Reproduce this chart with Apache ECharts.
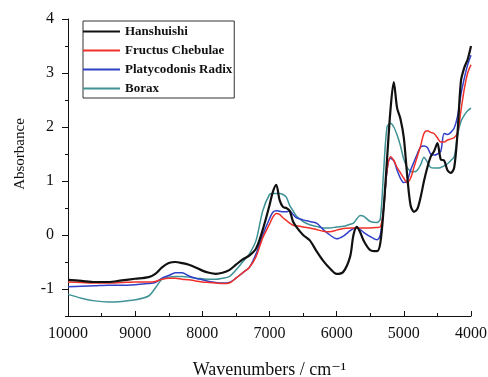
<!DOCTYPE html>
<html>
<head>
<meta charset="utf-8">
<script src="https://cdn.jsdelivr.net/npm/echarts@6/dist/echarts.min.js"></script>
<style>
  html, body { margin: 0; padding: 0; background: #fff; }
  #chart { width: 488px; height: 377px; }
</style>
</head>
<body>
<div id="chart"></div>
<script>
// wavenumbers (cm-1), shared by all spectra
var wavenumbers = [10000, 9800, 9600, 9400, 9200, 9000, 8800, 8700, 8600, 8500, 8400, 8300, 8200, 8100, 8000,
  7900, 7800, 7700, 7600, 7500, 7400, 7300, 7200, 7100, 7000, 6950, 6900, 6850, 6800, 6750, 6700, 6650, 6600,
  6500, 6400, 6300, 6200, 6100, 6000, 5900, 5800, 5750, 5700, 5650, 5600, 5500, 5400, 5350, 5300, 5250, 5200,
  5150, 5100, 5050, 5000, 4950, 4900, 4850, 4800, 4750, 4700, 4650, 4600, 4550, 4500, 4450, 4400, 4350, 4300,
  4250, 4200, 4150, 4100, 4050, 4000];

var hanshuishi = [-0.83, -0.85, -0.87, -0.87, -0.84, -0.81, -0.78, -0.72, -0.6, -0.52, -0.5, -0.52, -0.55, -0.6, -0.66,
  -0.7, -0.72, -0.7, -0.65, -0.55, -0.45, -0.38, -0.25, 0.1, 0.55, 0.8, 0.93, 0.65, 0.52, 0.5, 0.45, 0.25, 0.15,
  0.0, -0.1, -0.3, -0.48, -0.62, -0.72, -0.68, -0.4, 0.0, 0.15, 0.05, -0.1, -0.28, -0.3, -0.15, 0.5, 1.4, 2.3,
  2.83, 2.35, 2.15, 1.8, 1.1, 0.55, 0.43, 0.48, 0.7, 1.0, 1.25, 1.45, 1.55, 1.7, 1.4, 1.38, 1.2, 1.15,
  1.25, 1.9, 2.85, 3.1, 3.25, 3.5];

var fructusChebulae = [-0.87, -0.88, -0.89, -0.89, -0.88, -0.87, -0.87, -0.86, -0.82, -0.8, -0.8, -0.82, -0.83, -0.85, -0.87,
  -0.88, -0.89, -0.9, -0.89, -0.8, -0.7, -0.6, -0.4, -0.05, 0.2, 0.33, 0.4, 0.38, 0.32, 0.27, 0.22, 0.18, 0.17,
  0.15, 0.13, 0.1, 0.07, 0.06, 0.09, 0.12, 0.13, 0.13, 0.13, 0.13, 0.13, 0.13, 0.14, 0.15, 0.5, 1.2, 1.45,
  1.38, 1.25, 1.15, 1.05, 0.97, 1.05, 1.25, 1.45, 1.65, 1.88, 1.93, 1.9, 1.88, 1.8, 1.72, 1.72, 1.76, 1.78,
  1.8, 1.9, 2.3, 2.7, 3.0, 3.15];

var platycodonisRadix = [-0.96, -0.95, -0.94, -0.93, -0.93, -0.92, -0.9, -0.88, -0.8, -0.75, -0.7, -0.7, -0.76, -0.8, -0.83,
  -0.86, -0.88, -0.89, -0.88, -0.8, -0.7, -0.6, -0.35, 0.0, 0.3, 0.42, 0.45, 0.44, 0.43, 0.43, 0.45, 0.38, 0.32,
  0.28, 0.25, 0.22, 0.1, 0.0, -0.07, -0.02, 0.08, 0.12, 0.13, 0.1, 0.05, -0.03, -0.09, 0.0, 0.5, 1.2, 1.42,
  1.38, 1.2, 1.05, 0.97, 1.0, 1.2, 1.35, 1.5, 1.63, 1.65, 1.62, 1.5, 1.48, 1.5, 1.55, 1.88, 1.86, 1.9,
  1.98, 2.2, 2.6, 2.9, 3.15, 3.33];

var borax = [-1.1, -1.17, -1.22, -1.24, -1.23, -1.2, -1.13, -0.98, -0.82, -0.78, -0.77, -0.77, -0.78, -0.8, -0.81,
  -0.82, -0.82, -0.8, -0.77, -0.65, -0.5, -0.35, -0.1, 0.45, 0.75, 0.77, 0.77, 0.77, 0.75, 0.7, 0.55, 0.45, 0.35,
  0.25, 0.19, 0.16, 0.13, 0.13, 0.15, 0.16, 0.2, 0.22, 0.3, 0.36, 0.35, 0.25, 0.23, 0.3, 1.2, 2.0, 2.07,
  2.0, 1.85, 1.65, 1.4, 1.25, 1.18, 1.17, 1.2, 1.3, 1.44, 1.35, 1.25, 1.24, 1.24, 1.25, 1.28, 1.32, 1.38,
  1.45, 1.85, 2.1, 2.22, 2.3, 2.35];

var seriesNames = ['Hanshuishi', 'Fructus Chebulae', 'Platycodonis Radix', 'Borax'];
var seriesValues = [hanshuishi, fructusChebulae, platycodonisRadix, borax];
var seriesColors = ['#111111', '#f03028', '#3040c8', '#3f9296'];

var font = '"Liberation Serif", "DejaVu Serif", serif';

function pairs(values) {
  return wavenumbers.map(function (w, i) { return [w, values[i]]; });
}

var series = seriesNames.map(function (name, i) {
  return {
    name: name,
    type: 'line',
    xAxisIndex: 0,
    yAxisIndex: 0,
    data: pairs(seriesValues[i]),
    symbol: 'none',
    smooth: 0.3,
    z: 10 - i,
    lineStyle: { color: seriesColors[i], width: i === 0 ? 2.2 : 1.5 },
    itemStyle: { color: seriesColors[i] }
  };
});

var myChart = echarts.init(document.getElementById('chart'), null, { renderer: 'canvas' });

myChart.setOption({
  animation: false,
  backgroundColor: '#fff',
  grid: [
    { left: 68, right: 17, top: 19, bottom: 61, outerBoundsMode: 'none' },
    // same area down to y=-1, only used for the integer ticks and labels
    { left: 68, right: 17, top: 19, bottom: 88, outerBoundsMode: 'none' }
  ],
  legend: {
    orient: 'vertical',
    left: 83,
    top: 21,
    data: seriesNames.map(function (n, i) {
      return { name: n, icon: 'rect', itemStyle: { color: seriesColors[i] } };
    }),
    itemWidth: 37,
    itemHeight: 2,
    itemGap: 6,
    padding: [4, 2, 3, 0],
    borderColor: '#333',
    borderWidth: 1,
    textStyle: { fontFamily: font, fontWeight: 'bold', fontSize: 13, color: '#111' }
  },
  xAxis: [
    {
      type: 'value',
      gridIndex: 0,
      min: 4000,
      max: 10000,
      interval: 1000,
      inverse: true,
      name: 'Wavenumbers / cm\u207B\u00B9',
      nameLocation: 'middle',
      nameGap: 45,
      nameTextStyle: { fontFamily: font, fontSize: 18, color: '#111' },
      axisLine: { onZero: false, lineStyle: { color: '#111', width: 1 } },
      axisTick: { inside: true, length: 5, lineStyle: { color: '#111' } },
      minorTick: { show: true, splitNumber: 2, length: 3, lineStyle: { color: '#111' } },
      axisLabel: { margin: 10, fontFamily: font, fontSize: 16, color: '#111', formatter: function (v) { return String(v); } },
      splitLine: { show: false }
    },
    {
      type: 'value',
      gridIndex: 1,
      min: 4000,
      max: 10000,
      inverse: true,
      show: false
    }
  ],
  yAxis: [
    {
      type: 'value',
      gridIndex: 0,
      min: -1.5,
      max: 4,
      interval: 0.5,
      axisLine: { show: true, onZero: false, lineStyle: { color: '#111', width: 1 } },
      axisTick: { length: 3, lineStyle: { color: '#111' } },
      axisLabel: { show: false },
      splitLine: { show: false }
    },
    {
      type: 'value',
      gridIndex: 1,
      min: -1,
      max: 4,
      interval: 1,
      name: 'Absorbance',
      nameLocation: 'middle',
      nameGap: 40,
      nameTextStyle: { fontFamily: font, fontSize: 15, color: '#111' },
      axisLine: { show: false, onZero: false },
      axisTick: { show: true, length: 6, lineStyle: { color: '#111' } },
      axisLabel: { margin: 14, fontFamily: font, fontSize: 16, color: '#111' },
      splitLine: { show: false }
    }
  ],
  series: series
});
</script>
</body>
</html>
